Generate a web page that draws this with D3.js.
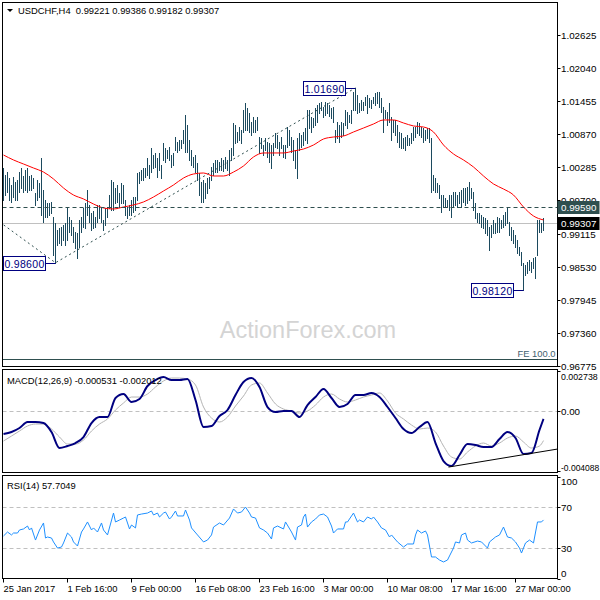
<!DOCTYPE html>
<html><head><meta charset="utf-8">
<script src="https://cdn.jsdelivr.net/npm/d3@7"></script>
<style>
body{margin:0;background:#fff}
svg{display:block}
text{font-family:"Liberation Sans",Arial,sans-serif}
</style>
</head><body>
<svg id="c" width="600" height="600"></svg>
<script>
// ---------------- DATA ----------------
const symbolTitle = "USDCHF,H4";
const lastOHLC = ["0.99221", "0.99386", "0.99182", "0.99307"];

const highs = [
1.00274,1.00150,1.00203,1.00097,0.99974,1.00115,1.00027,1.00062,1.00203,1.00274,
1.00133,1.00239,1.00274,1.00133,1.00150,1.00097,0.99833,1.00062,1.00009,1.00451,
0.99886,0.99709,0.99656,0.99656,0.99674,0.99409,0.99303,0.99179,0.99214,0.99232,
0.99267,0.99303,0.99568,0.99409,0.99356,0.99232,0.99144,0.99126,0.99356,0.99409,
0.99568,0.99656,0.99886,0.99621,0.99479,0.99515,0.99409,0.99621,0.99621,0.99568,
0.99356,0.99568,0.99585,0.99797,1.00062,1.00027,0.99921,0.99974,0.99833,1.00009,
0.99974,0.99709,0.99585,0.99621,0.99709,0.99762,0.99762,1.00186,1.00203,1.00239,
1.00274,1.00274,1.00451,1.00327,1.00628,1.00504,1.00540,1.00451,1.00540,1.00327,
1.00716,1.00628,1.00593,1.00646,1.00504,1.00540,1.00822,1.00734,1.00769,1.00769,
1.00946,1.01211,1.01034,1.00769,1.00593,1.00469,1.00504,1.00363,1.00186,1.00027,
1.00062,1.00009,1.00097,1.00115,1.00292,1.00363,1.00416,1.00416,1.00380,1.00451,
1.00416,1.00469,1.00416,1.00593,1.00628,1.01070,1.01034,1.00911,1.00999,1.00946,
1.01299,1.01423,1.01335,1.01246,1.01087,1.01176,1.01123,1.01176,1.00822,1.00805,
1.00681,1.00805,1.00734,1.00716,1.00681,1.00716,1.00893,1.00858,1.00734,1.00822,
1.00681,1.00681,1.00999,1.00946,1.00822,1.00769,1.00593,1.00805,1.00893,1.00858,
1.00911,1.00981,1.01299,1.01299,1.01176,1.01158,1.01335,1.01388,1.01423,1.01441,
1.01352,1.01441,1.01423,1.01388,1.01335,1.01352,1.00946,1.01087,1.01034,1.01087,
1.01070,1.01299,1.01264,1.01211,1.01299,1.01617,1.01690,1.01564,1.01423,1.01476,
1.01441,1.01529,1.01564,1.01511,1.01476,1.01529,1.01600,1.01617,1.01617,1.01511,
1.01352,1.01299,1.01264,1.01423,1.01176,1.01123,1.01123,1.01034,1.00911,1.00893,
1.00805,1.00822,1.00858,1.00805,1.00893,1.00999,1.00999,1.01087,1.01070,1.00999,
1.00981,1.00946,1.00981,1.00981,1.00805,1.00150,1.00097,1.00009,0.99974,0.99797,
0.99797,0.99744,0.99709,0.99797,0.99797,0.99850,0.99850,0.99797,0.99850,0.99886,
0.99921,0.99921,0.99939,1.00027,0.99921,0.99850,0.99656,0.99479,0.99479,0.99444,
0.99409,0.99391,0.99356,0.99232,0.99267,0.99356,0.99303,0.99409,0.99391,0.99356,
0.99444,0.99497,0.99590,0.99320,0.99232,0.99179,0.99091,0.99002,0.98878,0.98790,
0.98596,0.98561,0.98614,0.98649,0.98614,0.98684,0.98702,0.99356,0.99356,0.99303,0.99386
];
const lows = [
0.99709,0.99797,0.99850,0.99709,0.99674,0.99762,0.99709,0.99709,0.99850,0.99921,
0.99850,0.99886,0.99850,0.99886,0.99886,0.99921,0.99621,0.99709,0.99762,0.99444,
0.99320,0.99409,0.99409,0.99444,0.99479,0.98737,0.98600,0.98914,0.98949,0.98914,
0.99002,0.98914,0.99002,0.99144,0.99091,0.98967,0.98861,0.98684,0.98878,0.99144,
0.99232,0.99214,0.99444,0.99320,0.99179,0.99214,0.99232,0.99320,0.99391,0.99320,
0.99179,0.99267,0.99409,0.99568,0.99532,0.99532,0.99656,0.99674,0.99585,0.99656,
0.99656,0.99444,0.99391,0.99444,0.99444,0.99497,0.99532,0.99709,1.00009,1.00062,
1.00062,1.00115,1.00150,1.00097,1.00203,1.00274,1.00292,1.00115,1.00239,1.00097,
1.00416,1.00380,1.00451,1.00416,1.00292,1.00327,1.00593,1.00557,1.00593,1.00628,
1.00716,1.00557,1.00557,1.00416,1.00327,1.00292,1.00203,1.00062,0.99797,0.99674,
0.99674,0.99744,0.99833,0.99921,1.00062,1.00150,1.00203,1.00203,1.00239,1.00239,
1.00221,1.00274,1.00239,1.00150,1.00416,1.00504,1.00716,1.00734,1.00769,1.00716,
1.00911,1.00946,1.00946,1.00911,1.00858,1.00911,1.00911,1.00946,1.00540,1.00628,
1.00504,1.00593,1.00469,1.00380,1.00274,1.00504,1.00646,1.00628,1.00504,1.00628,
1.00469,1.00451,1.00646,1.00681,1.00557,1.00416,1.00274,1.00097,1.00593,1.00646,
1.00681,1.00769,1.00716,1.00981,1.00911,1.00999,1.01034,1.01087,1.01246,1.01299,
1.01176,1.01211,1.01246,1.01193,1.01158,1.01087,1.00734,1.00805,1.00734,1.00822,
1.00858,1.01034,1.00981,1.01087,1.01070,1.01299,1.01299,1.01246,1.01264,1.01299,
1.01299,1.01388,1.01246,1.01352,1.01335,1.01423,1.01388,1.01423,1.01352,1.01264,
1.00911,1.01158,1.01034,1.01087,1.00769,1.00911,1.00858,1.00734,1.00646,1.00628,
1.00628,1.00593,1.00681,1.00681,1.00716,1.00769,1.00822,1.00893,1.00858,1.00822,
1.00734,1.00769,1.00805,1.00734,0.99850,0.99886,0.99850,0.99850,0.99744,0.99497,
0.99585,0.99585,0.99585,0.99532,0.99409,0.99585,0.99621,0.99585,0.99656,0.99585,
0.99674,0.99621,0.99656,0.99709,0.99744,0.99532,0.99391,0.99320,0.99303,0.99232,
0.99214,0.99126,0.99091,0.98826,0.99055,0.99126,0.99126,0.99144,0.99144,0.99214,
0.99232,0.99267,0.99303,0.99091,0.99002,0.98949,0.98878,0.98773,0.98737,0.98561,
0.98120,0.98384,0.98419,0.98472,0.98437,0.98508,0.98331,0.98737,0.99144,0.99144,0.99182
];

// moving average (red), read every 5 bars
const maBars = [0,5,10,15,20,25,30,35,40,45,50,55,60,65,70,75,80,85,90,95,100,105,110,115,120,125,130,135,140,145,150,155,160,165,170,175,180,185,190,195,200,205,210,215,220,225,230,235,240,245,250,255,260,265,270];
const maValues = [1.00504,1.00416,1.00345,1.00274,1.00203,1.00080,0.99921,0.99797,0.99727,0.99638,
0.99568,0.99550,0.99585,0.99621,0.99674,0.99762,0.99868,0.99974,1.00097,1.00168,
1.00186,1.00133,1.00133,1.00203,1.00310,1.00469,1.00540,1.00540,1.00540,1.00575,
1.00610,1.00681,1.00787,1.00822,1.00840,1.00911,1.00981,1.01052,1.01123,1.01123,
1.01070,1.01017,1.00999,1.00911,1.00681,1.00522,1.00416,1.00292,1.00133,0.99992,
0.99903,0.99797,0.99585,0.99426,0.99356];

// MACD(12,26,9), read every 4 bars
const macdBars = [0,4,8,12,16,20,24,28,32,36,40,44,48,52,56,60,64,68,72,76,80,84,88,92,96,100,104,108,112,116,120,124,128,132,136,140,144,148,152,156,160,164,168,172,176,180,184,188,192,196,200,204,208,212,216,220,224,228,232,236,240,244,248,252,256,260,264,268,270];
const macdValues = [-0.001563,-0.001427,-0.001154,-0.000744,-0.000744,-0.000812,-0.001427,-0.002519,-0.002382,-0.002178,
-0.001768,-0.000812,-0.000403,-0.000403,0.000894,0.001167,0.000621,0.000826,0.001713,0.002123,
0.002328,0.002123,0.002123,0.002191,0.000758,-0.001085,-0.001017,-0.000334,0.000075,0.001099,
0.001986,0.002259,0.001645,0.000280,-0.000061,0.000007,0.000007,-0.000403,0.000416,0.000962,
0.001509,0.000894,0.000280,0.000485,0.001099,0.001099,0.001236,0.000962,0.000280,-0.000471,
-0.001222,-0.001495,-0.001085,-0.000744,-0.002178,-0.003406,-0.003747,-0.002997,-0.002246,-0.002314,
-0.002451,-0.002451,-0.001904,-0.001427,-0.001836,-0.002928,-0.002860,-0.001290,-0.000531];
const signalValues = [-0.002041,-0.001700,-0.001358,-0.001017,-0.000881,-0.000881,-0.001222,-0.001768,-0.002246,-0.002246,
-0.001973,-0.001358,-0.000881,-0.000539,0.000075,0.000553,0.000962,0.000962,0.001167,0.001645,
0.002055,0.002259,0.002259,0.002191,0.001782,0.000280,-0.000471,-0.000744,-0.000403,0.000348,
0.001031,0.001782,0.001918,0.001236,0.000485,0.000143,0.000007,-0.000130,0.000007,0.000416,
0.000962,0.001167,0.000826,0.000621,0.000758,0.000962,0.001099,0.001236,0.000689,-0.000130,
-0.000539,-0.000949,-0.001222,-0.001154,-0.001427,-0.002382,-0.003133,-0.003270,-0.002792,-0.002382,
-0.002178,-0.002382,-0.002178,-0.001836,-0.001700,-0.002109,-0.002519,-0.002382,-0.002012];
const macdTrendBars = [222.5, 277];
const macdTrendValues = [-0.00382, -0.00259];

// RSI(14)
const rsiBars = [0,2,4,5,7,8,10,12,13,14,16,18,20,21,22,24,25,27,29,30,32,34,35,37,39,40,42,44,45,47,49,50,52,55,56,58,60,61,63,64,66,67,69,72,74,75,77,78,80,81,83,84,86,87,90,91,93,94,97,100,102,104,105,108,110,113,115,117,119,121,123,124,126,128,130,132,134,135,137,140,141,144,146,147,149,150,151,152,154,156,158,160,162,164,165,167,170,171,172,175,177,178,180,182,184,185,187,189,191,193,194,197,200,202,205,206,207,209,211,212,214,216,218,220,222,223,225,226,228,229,231,232,234,237,239,242,243,246,248,250,252,254,256,258,259,261,263,265,267,269,270];
const rsiValues = [41.9,45.8,42.9,44.8,44.8,47.8,48.8,51.7,47.8,49.8,
37.9,47.8,54.7,39.9,40.9,39.9,36.0,30.0,31.0,35.0,
44.8,40.9,36.0,32.0,45.8,48.8,55.7,47.8,49.8,45.8,
54.7,47.8,42.9,64.5,55.7,57.6,59.6,60.6,48.8,52.7,
49.8,62.6,63.5,64.5,66.5,62.6,64.5,60.6,64.5,65.5,
58.6,60.6,66.5,61.6,61.6,67.5,57.6,49.8,42.9,36.0,
37.9,42.9,50.7,54.7,52.7,59.6,68.5,64.5,65.5,70.4,
64.5,60.6,59.6,49.8,47.8,44.8,38.9,49.8,51.7,48.8,
55.7,45.8,37.9,50.7,52.7,60.6,63.5,50.7,55.7,58.6,
62.6,63.5,60.6,51.7,44.8,48.8,48.8,55.7,55.7,64.5,
55.7,57.6,55.7,60.6,58.6,60.6,55.7,49.8,47.8,40.9,
42.9,36.0,31.0,34.0,34.0,42.9,47.8,44.8,46.8,42.9,
21.2,21.2,18.2,16.3,18.2,22.2,30.0,36.0,35.0,42.9,
44.8,37.9,35.0,36.9,36.0,30.0,36.0,40.9,42.9,50.7,
40.9,39.9,36.0,30.0,25.1,35.0,37.9,35.0,55.7,55.7,57.7];
const rsiLastText = "57.7049";
const rsiLevels = [70, 30];
const rsiTicks = [100, 70, 30, 0];

const priceTicks = [0.96775,0.97360,0.97945,0.98530,0.99115,0.99700,1.00285,1.00870,1.01455,1.02040,1.02625];
const levelPrice = 0.99590;
const currentPrice = 0.99307;
const feLevelPrice = 0.96899;
const feText = "FE 100.0";
const feBars = [-8, 26, 176];
const fePrices = [0.99476, 0.98600, 1.01690];
const swingBars = [26, 176, 260];
const swingPrices = [0.98600, 1.01690, 0.98120];
const swingTexts = ["0.98600", "1.01690", "0.98120"];

const timeBars = [0,32,64,96,128,160,192,224,256];
const timeLabels = ["25 Jan 2017","1 Feb 16:00","9 Feb 00:00","16 Feb 08:00","23 Feb 16:00","3 Mar 00:00","10 Mar 08:00","17 Mar 16:00","27 Mar 00:00"];
const macdLabel = "MACD(12,26,9) -0.000531 -0.002012";
const macdAxisTexts = ["0.002738", "0.00", "-0.004088"];
const watermark = "ActionForex.com";

// ---------------- LAYOUT ----------------
const svg = d3.select("#c");
const L = 2.5, R = 557.5;
const P = {main:[2.5, 366.5], macd:[369.5, 472.5], rsi:[475.5, 578.5]};
const BAR = "#1c4a5e", NAVY = "#000080", SLATE = "#2f4f4f";
const fs = 9.4;

const x = d3.scaleLinear().domain([0, 270]).range([3.5, 543.5]);
const y = d3.scaleLinear().domain([0.96775, 1.03208]).range([366, 2]);
const ym = d3.scaleLinear().domain([-0.004088, 0.002738]).range([471, 371]);
const yr = d3.scaleLinear().domain([0, 100]).range([578.5, 477]);

const defs = svg.append("defs");
Object.entries(P).forEach(([k, [t, b]]) => {
  defs.append("clipPath").attr("id", "clip-" + k).append("rect")
    .attr("x", L + 0.5).attr("y", t + 0.5).attr("width", R - L - 1).attr("height", b - t - 1);
});

// ---------- main panel ----------
const gm = svg.append("g").attr("clip-path", "url(#clip-main)");
gm.append("text").attr("x", 308).attr("y", 338).attr("text-anchor", "middle")
  .attr("font-size", 23.5).attr("fill", "#d4d4d4").text(watermark);

// FE 100 line
gm.append("line").attr("x1", L).attr("x2", R)
  .attr("y1", Math.round(y(feLevelPrice)) + 0.5).attr("y2", Math.round(y(feLevelPrice)) + 0.5)
  .attr("stroke", SLATE).attr("stroke-width", 1);
gm.append("text").attr("x", R - 2).attr("y", Math.round(y(feLevelPrice)) - 2)
  .attr("text-anchor", "end").attr("font-size", fs).attr("fill", "#3f5f6f").text(feText);

// bid line
gm.append("line").attr("x1", L).attr("x2", R)
  .attr("y1", Math.round(y(currentPrice)) + 0.5).attr("y2", Math.round(y(currentPrice)) + 0.5)
  .attr("stroke", "#c0c0c0");

// bars
gm.append("g").attr("shape-rendering", "crispEdges").selectAll("line")
  .data(highs.map((h, i) => ({i, h, l: lows[i]})))
  .join("line")
  .attr("x1", d => x(d.i)).attr("x2", d => x(d.i))
  .attr("y1", d => Math.round(y(d.h))).attr("y2", d => Math.round(y(d.l)) + 1)
  .attr("stroke", BAR).attr("stroke-width", 1);

// MA
gm.append("path").datum(maBars.map((b, i) => [b, maValues[i]]))
  .attr("d", d3.line().x(d => x(d[0])).y(d => y(d[1])).curve(d3.curveMonotoneX))
  .attr("fill", "none").attr("stroke", "#ff0000").attr("stroke-width", 1);

// level dashed line
gm.append("line").attr("x1", L).attr("x2", R)
  .attr("y1", Math.round(y(levelPrice)) + 0.5).attr("y2", Math.round(y(levelPrice)) + 0.5)
  .attr("stroke", SLATE).attr("stroke-dasharray", "4,3");

// FE dotted lines
gm.append("path").datum(feBars.map((b, i) => [b, fePrices[i]]))
  .attr("d", d3.line().x(d => x(d[0])).y(d => y(d[1])))
  .attr("fill", "none").attr("stroke", SLATE).attr("stroke-dasharray", "2,3");

// swing labels
swingBars.forEach((b, i) => {
  const bx = x(b), by = Math.round(y(swingPrices[i])) + 0.5;
  const w = 42, h = 14, right = Math.round(bx) - 10.5;
  gm.append("line").attr("x1", right).attr("x2", bx).attr("y1", by).attr("y2", by).attr("stroke", NAVY);
  gm.append("rect").attr("x", right - w).attr("y", by - h / 2).attr("width", w).attr("height", h)
    .attr("fill", "#fff").attr("stroke", NAVY);
  gm.append("text").attr("x", right - w / 2).attr("y", by + 4).attr("text-anchor", "middle")
    .attr("font-size", 10.5).attr("fill", NAVY).attr("letter-spacing", 0.3).text(swingTexts[i]);
});

// title
svg.append("path").attr("d", "M7,9L13,9L10,12Z").attr("fill", "#000");
svg.append("text").attr("x", 18).attr("y", 14).attr("font-size", fs).attr("fill", "#000")
  .style("white-space", "pre").text(symbolTitle + "  " + lastOHLC.join(" "));

// ---------- MACD ----------
const gd = svg.append("g").attr("clip-path", "url(#clip-macd)");
gd.append("line").attr("x1", L).attr("x2", R).attr("y1", Math.round(ym(0)) + 0.5).attr("y2", Math.round(ym(0)) + 0.5)
  .attr("stroke", "#c0c0c0").attr("stroke-dasharray", "4,3");
gd.append("path").datum(macdBars.map((b, i) => [b, signalValues[i]]))
  .attr("d", d3.line().x(d => x(d[0])).y(d => ym(d[1])).curve(d3.curveMonotoneX))
  .attr("fill", "none").attr("stroke", "#b4b4b4").attr("stroke-width", 1);
gd.append("path").datum(macdBars.map((b, i) => [b, macdValues[i]]))
  .attr("d", d3.line().x(d => x(d[0])).y(d => ym(d[1])).curve(d3.curveMonotoneX))
  .attr("fill", "none").attr("stroke", NAVY).attr("stroke-width", 2);
gd.append("path").datum(macdTrendBars.map((b, i) => [b, macdTrendValues[i]]))
  .attr("d", d3.line().x(d => x(d[0])).y(d => ym(d[1])))
  .attr("fill", "none").attr("stroke", "#000").attr("stroke-width", 1);
svg.append("text").attr("x", 7).attr("y", 384).attr("font-size", fs).attr("fill", "#000").text(macdLabel);

// ---------- RSI ----------
const gr = svg.append("g").attr("clip-path", "url(#clip-rsi)");
rsiLevels.forEach(v => {
  gr.append("line").attr("x1", L).attr("x2", R).attr("y1", Math.round(yr(v)) + 0.5).attr("y2", Math.round(yr(v)) + 0.5)
    .attr("stroke", "#c0c0c0").attr("stroke-dasharray", "4,3");
});
gr.append("path").datum(rsiBars.map((b, i) => [b, rsiValues[i]]))
  .attr("d", d3.line().x(d => x(d[0])).y(d => yr(d[1])))
  .attr("fill", "none").attr("stroke", "#1e90ff").attr("stroke-width", 1);
svg.append("text").attr("x", 7).attr("y", 489).attr("font-size", fs).attr("fill", "#000").text("RSI(14) " + rsiLastText);

// ---------- panel frames ----------
Object.values(P).forEach(([t, b]) => {
  svg.append("rect").attr("x", L).attr("y", t).attr("width", R - L).attr("height", b - t)
    .attr("fill", "none").attr("stroke", "#000").attr("stroke-width", 1);
});

// ---------- right axes ----------
const ax = svg.append("g").attr("fill", "#000");
function rtick(yy, label, dy, size) {
  const yv = Math.round(yy) + 0.5;
  ax.append("line").attr("x1", R).attr("x2", R + 3).attr("y1", yv).attr("y2", yv).attr("stroke", "#000");
  ax.append("text").attr("x", 561).attr("y", yv + (dy == null ? 3.5 : dy))
    .attr("font-size", size || fs + 0.4).text(label);
}
priceTicks.forEach(p => rtick(y(p), d3.format(".5f")(p)));
// level boxes
[[levelPrice, SLATE], [currentPrice, "#000"]].forEach(([p, col]) => {
  const yv = Math.round(y(p)) + 0.5;
  svg.append("rect").attr("x", R).attr("y", yv - 6.5).attr("width", 42).attr("height", 13).attr("fill", col);
  svg.append("text").attr("x", 561).attr("y", yv + 3.5).attr("font-size", fs + 0.4).attr("fill", "#fff")
    .text(d3.format(".5f")(p));
});
// MACD axis
rtick(ym(0.002738), macdAxisTexts[0], 8, 8.8);
rtick(ym(0), macdAxisTexts[1]);
rtick(ym(-0.004088), macdAxisTexts[2], -1, 8.5);
// RSI axis
rsiTicks.forEach(v => rtick(yr(v), String(v), v === 100 ? 7 : (v === 0 ? -3 : 3.5)));

// ---------- time axis ----------
const tx = svg.append("g");
timeBars.forEach((b, i) => {
  const xv = Math.round(x(b)) - 0.5;
  tx.append("line").attr("x1", xv).attr("x2", xv).attr("y1", P.rsi[1]).attr("y2", P.rsi[1] + 4).attr("stroke", "#000");
  tx.append("text").attr("x", xv).attr("y", 592).attr("font-size", fs).attr("fill", "#000").text(timeLabels[i]);
});
</script>
</body></html>
